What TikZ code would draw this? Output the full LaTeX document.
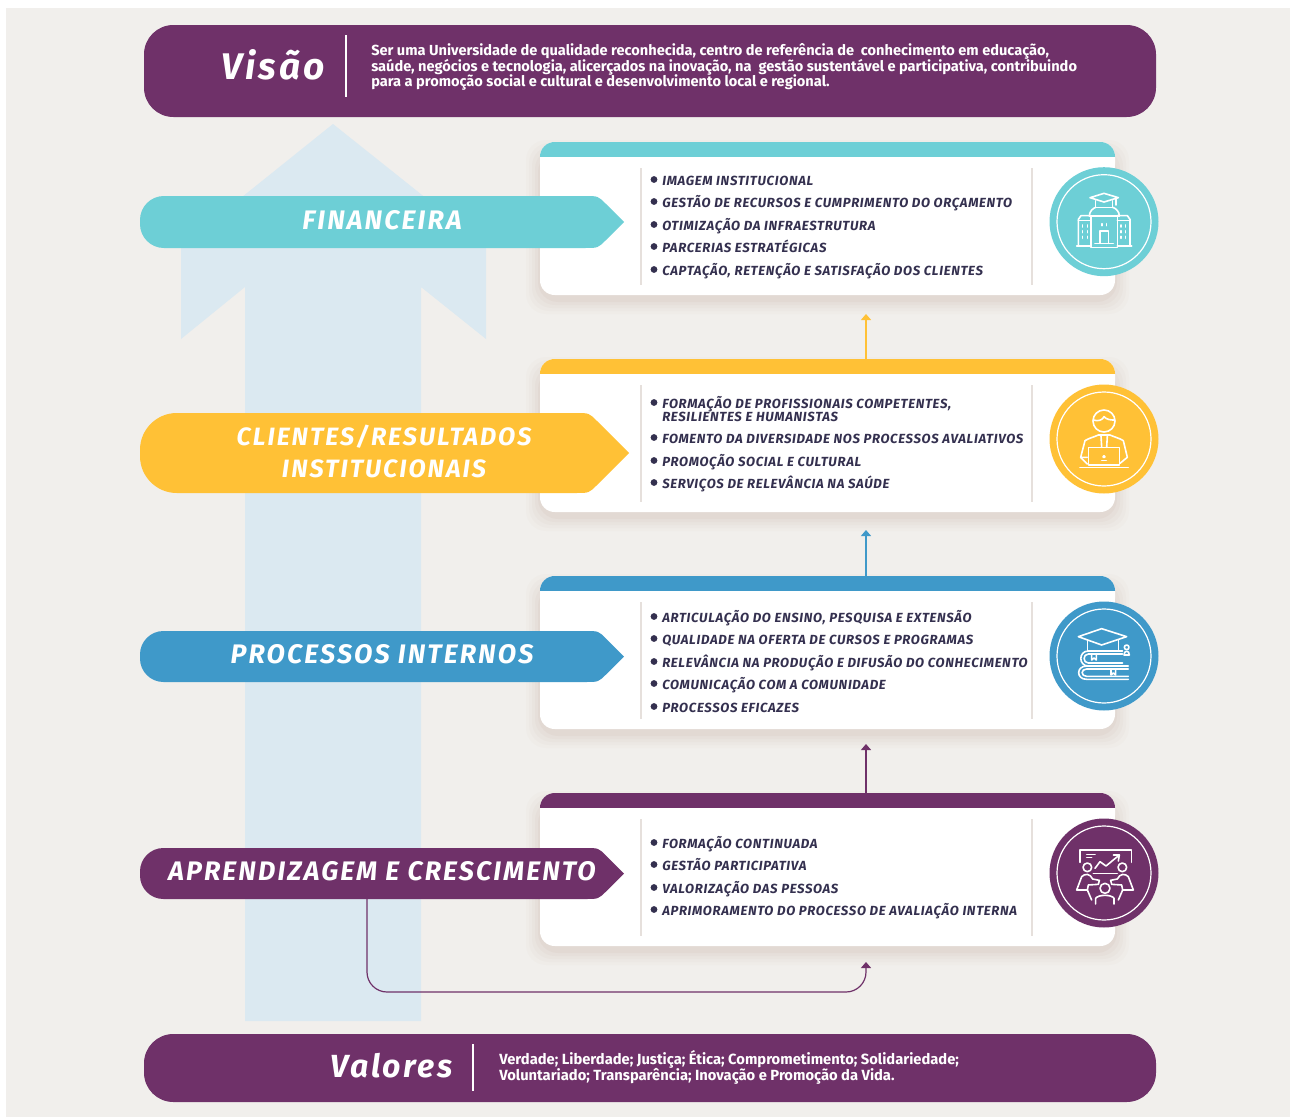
\documentclass[tikz,border=0pt]{standalone}
\usepackage{fontspec}
\setmainfont{Fira Sans}
\newfontfamily\listfont[LetterSpace=5,BoldItalicFont={Fira Sans Bold Italic}]{Fira Sans}
\newfontfamily\banfont[LetterSpace=8,BoldItalicFont={Fira Sans Bold Italic}]{Fira Sans}
\usetikzlibrary{arrows.meta,calc}
\definecolor{cteal}{HTML}{6DCFD6}
\definecolor{cyell}{HTML}{FFC136}
\definecolor{cblue}{HTML}{3F99C9}
\definecolor{cpurp}{HTML}{6F3169}
\definecolor{cdark}{HTML}{34304F}
\definecolor{cbg}{HTML}{F1EFEC}
\definecolor{csky}{HTML}{DBE9F1}
\definecolor{csep}{HTML}{E6E0DC}
\definecolor{cshadow}{HTML}{B89A8C}
\tikzset{
  listtext/.style={anchor=base west,inner sep=0pt,font=\listfont\bfseries\itshape\fontsize{9.9pt}{10.5pt}\selectfont,text=cdark},
  bantext/.style={inner sep=0pt,align=center,text=white,font=\banfont\bfseries\itshape\fontsize{20.1pt}{24pt}\selectfont},
  bartext/.style={anchor=base west,inner sep=0pt,align=left,text=white,font=\bfseries\fontsize{10.95pt}{11.6pt}\selectfont},
  bartitle/.style={anchor=base east,inner sep=0pt,text=white,font=\banfont\bfseries\itshape\fontsize{27.8pt}{30pt}\selectfont},
  sepline/.style={draw=csep,line width=0.8pt},
  flow/.style={line width=0.9pt,-{Triangle[width=7.5pt,length=4.5pt]}},
  iconline/.style={draw=white,line width=1.2pt,line cap=round,line join=round},
}
% \bannershape{top}{bottom}{tip}{colour}: round left end, 45-degree point on the right
\newcommand{\bannershape}[4]{%
  \pgfmathsetmacro{\bmid}{(#1+#2)/2}%
  \pgfmathsetmacro{\brad}{(#2-#1)/2*0.75*0.92}%
  \pgfmathsetmacro{\bcor}{#3-(#2-#1)/2}%
  \fill[#4,rounded corners=\brad pt] (300,#2) -- (140,#2) -- (140,#1) -- (300,#1) [sharp corners] -- ({\bcor-13},#1) .. controls (\bcor,#1) .. ({\bcor+8},{#1+8}) -- (#3,\bmid) -- ({\bcor+8},{#2-8}) .. controls (\bcor,#2) .. ({\bcor-13},#2) -- cycle;%
}
% \cardbox{name}{top}{colour}
\newcommand{\cardbox}[3]{%
  \foreach \s/\o in {14/0.03,11/0.04,8/0.05,5/0.06,2/0.08}{
    \fill[cshadow,opacity=\o,rounded corners=15pt] ({540-\s},{#2+12-\s}) rectangle ({1115+\s},{#2+153+5+\s});
  }
  \node[minimum width=431.25pt,minimum height=114.75pt,inner sep=0pt,fill=white,rounded corners=11pt] (#1) at (827.5,{#2+76.5}) {};
  \begin{scope}
    \clip (540,#2) rectangle (1115,{#2+14.5});
    \fill[#3,rounded corners=11pt] (540,#2) rectangle (1115,{#2+60});
  \end{scope}
  \draw[sepline] (641,{#2+26}) -- (641,{#2+143});
  \draw[sepline] (1032,{#2+26}) -- (1032,{#2+143});
}
% \bul{name}{centre y}{text}
\newcommand{\bul}[3]{%
  \fill[cdark] (654,{#2-0.5}) circle[radius=3.4];
  \node[listtext] (#1) at (662,{#2+5}) {#3};
}
\newcommand{\disc}[2]{%
  \fill[#2] (1104,#1) circle[radius=54.5];
  \draw[white,line width=0.9pt] (1104,#1) circle[radius=47];
}
\begin{document}
\begin{tikzpicture}[x=0.75pt,y=-0.75pt]
\useasboundingbox (0,0) rectangle (1290,1117);
\fill[white] (0,0) rectangle (1290,1117);
\fill[cbg] (6,8) rectangle (1290,1117);

% big pale arrow
\fill[csky] (333,124) -- (486,246) -- (486,339) -- (421,287) -- (421,1021) -- (245,1021) -- (245,287) -- (181,339) -- (181,246) -- cycle;

% cards
\cardbox{cardfin}{142}{cteal}
\cardbox{cardcli}{359}{cyell}
\cardbox{cardpro}{576}{cblue}
\cardbox{cardapr}{793}{cpurp}

% top and bottom bars
\node[fill=cpurp,rounded corners=22pt,minimum width=759pt,minimum height=69pt,inner sep=0pt] (visbar) at (650,71) {};
\node[fill=cpurp,rounded corners=22pt,minimum width=759pt,minimum height=51pt,inner sep=0pt] (valbar) at (650,1068) {};
\node[bartitle] (vistitle) at (325,79) {Visão};
\draw[white,line width=0.9pt] (346,35) -- (346,97);
\node[bartext] (vistext) at (371,86) {Ser uma Universidade de qualidade reconhecida, centro de referência de\ \ conhecimento em educação,\\[-1.5pt]saúde, negócios e tecnologia, alicerçados na inovação, na\ \ gestão sustentável e participativa, contribuindo\\[-1.5pt]para a promoção social e cultural e desenvolvimento local e regional.};
\node[bartitle,font=\banfont\bfseries\itshape\fontsize{24pt}{30pt}\selectfont] (valtitle) at (453,1077) {Valores};
\draw[white,line width=0.9pt] (473,1044) -- (473,1091);
\node[bartext,font=\bfseries\fontsize{11.05pt}{11.6pt}\selectfont] (valtext) at (499,1080) {Verdade; Liberdade; Justiça; Ética; Comprometimento; Solidariedade;\\[-1.5pt]Voluntariado; Transparência; Inovação e Promoção da Vida.};

% banners
\bannershape{196}{248}{624}{cteal}
\bannershape{413}{493}{629}{cyell}
\bannershape{631}{682}{624}{cblue}
\bannershape{848}{899}{624}{cpurp}
\node[bantext,minimum width=363pt,minimum height=38pt] (banfin) at (382,220) {FINANCEIRA};
\node[bantext,minimum width=363pt,minimum height=60pt,font=\banfont\bfseries\itshape\fontsize{18.8pt}{24pt}\selectfont] (bancli) at (384,451) {CLIENTES/RESULTADOS\\INSTITUCIONAIS};
\node[bantext,minimum width=363pt,minimum height=38pt] (banpro) at (382,654) {PROCESSOS INTERNOS};
\node[bantext,minimum width=363pt,minimum height=38pt] (banapr) at (382,871) {APRENDIZAGEM E CRESCIMENTO};

% lists
\bul{f1}{180}{IMAGEM INSTITUCIONAL}
\bul{f2}{202}{GESTÃO DE RECURSOS E CUMPRIMENTO DO ORÇAMENTO}
\bul{f3}{225}{OTIMIZAÇÃO DA INFRAESTRUTURA}
\bul{f4}{247}{PARCERIAS ESTRATÉGICAS}
\bul{f5}{270}{CAPTAÇÃO, RETENÇÃO E SATISFAÇÃO DOS CLIENTES}
\bul{c1}{403}{FORMAÇÃO DE PROFISSIONAIS COMPETENTES,}
\node[listtext] (c1b) at (662,421) {RESILIENTES E HUMANISTAS};
\bul{c2}{438}{FOMENTO DA DIVERSIDADE NOS PROCESSOS AVALIATIVOS}
\bul{c3}{461}{PROMOÇÃO SOCIAL E CULTURAL}
\bul{c4}{483}{SERVIÇOS DE RELEVÂNCIA NA SAÚDE}
\bul{p1}{617}{ARTICULAÇÃO DO ENSINO, PESQUISA E EXTENSÃO}
\bul{p2}{639}{QUALIDADE NA OFERTA DE CURSOS E PROGRAMAS}
\bul{p3}{662}{RELEVÂNCIA NA PRODUÇÃO E DIFUSÃO DO CONHECIMENTO}
\bul{p4}{684}{COMUNICAÇÃO COM A COMUNIDADE}
\bul{p5}{707}{PROCESSOS EFICAZES}
\bul{a1}{843}{FORMAÇÃO CONTINUADA}
\bul{a2}{865}{GESTÃO PARTICIPATIVA}
\bul{a3}{888}{VALORIZAÇÃO DAS PESSOAS}
\bul{a4}{910}{APRIMORAMENTO DO PROCESSO DE AVALIAÇÃO INTERNA}

% connectors
\coordinate (tipa) at (866,314);
\coordinate (tipb) at (866,530);
\coordinate (tipc) at (866,744);
\coordinate (tipd) at (866,962);
\coordinate (elbow) at (367,992);
\draw[flow,draw=cyell] (cardcli.north -| tipa) -- (tipa);
\draw[flow,draw=cblue] (cardpro.north -| tipb) -- (tipb);
\draw[flow,draw=cpurp] (cardapr.north -| tipc) -- (tipc);
\draw[flow,draw=cpurp,rounded corners=15pt] (banapr.south -| elbow) ++(0,2) -- (elbow) -- (elbow -| tipd) -- (tipd);

% icon discs
\disc{221.7}{cteal}
\disc{439}{cyell}
\disc{656}{cblue}
\disc{873}{cpurp}

% building icon
\begin{scope}[shift={(1030,150)},x=0.25pt,y=-0.25pt,iconline]
  \draw (180,143) -- (222,130) -- (265,143) -- (222,156) -- cycle;
  \draw (258,146) -- (258,165);
  \draw (197,152) -- (197,172) -- (248,172) -- (248,152);
  \draw (178,198) .. controls (178,185) and (188,175) .. (197,172);
  \draw (268,198) .. controls (268,185) and (258,175) .. (248,172);
  \draw (178,198) -- (268,198);
  \draw (183,198) -- (183,292) -- (262,292) -- (262,198);
  \draw (183,197) -- (153,197) -- (145,208) -- (145,285);
  \draw (262,197) -- (292,197) -- (300,208) -- (300,285);
  \draw (145,212) -- (183,212);
  \draw (262,212) -- (300,212);
  \draw (140,288) -- (183,288);
  \draw (262,288) -- (305,288);
  \draw (210,280) -- (210,243) -- (235,243) -- (235,280);
  \draw (195,280) -- (250,280);
  \foreach \a in {158,172,273,287}{\foreach \b in {228,245,262}{\draw (\a,\b-3) -- (\a,\b+3);}}
  \foreach \a in {216,230}{\draw (\a,221) -- (\a,227);}
\end{scope}

% person icon
\begin{scope}[shift={(1030,370)},x=0.25pt,y=-0.25pt,iconline]
  \draw (222,153) circle[radius=33];
  \draw (190,150) .. controls (205,155) and (218,150) .. (222,140) .. controls (230,150) and (245,150) .. (254,150);
  \draw (172,262) -- (152,262) -- (165,212) .. controls (175,205) and (195,200) .. (205,195) -- (240,195) .. controls (250,200) and (270,205) .. (280,212) -- (292,262) -- (270,280);
  \draw (152,262) -- (172,282);
  \draw (175,232) -- (268,232) -- (268,285) -- (175,285) -- cycle;
  \draw (150,292) -- (295,292);
  \draw (213,198) -- (215,232);
  \draw (232,198) -- (230,232);
  \draw (222,260) circle[radius=3];
  \draw (215,272) -- (229,272);
\end{scope}

% books icon
\begin{scope}[shift={(1030,590)},x=0.25pt,y=-0.25pt,iconline]
  \draw (145,140) -- (215,116) -- (290,140) -- (215,165) -- cycle;
  \draw (172,150) -- (172,183) -- (265,183) -- (265,150);
  \draw (278,183) -- (175,183) .. controls (145,183) and (145,228) .. (175,228) -- (278,228);
  \draw (278,192) -- (175,192) .. controls (158,192) and (158,219) .. (175,219) -- (278,219);
  \draw (295,228) -- (170,228) .. controls (138,228) and (138,268) .. (170,268) -- (295,268);
  \draw (295,237) -- (170,237) .. controls (152,237) and (152,259) .. (170,259) -- (295,259);
  \draw (185,192) -- (185,210) -- (192,204) -- (199,210) -- (199,192);
  \draw (243,237) -- (243,255) -- (250,249) -- (257,255) -- (257,237);
  \draw (290,172) circle[radius=7];
  \draw (282,195) .. controls (282,180) and (298,180) .. (298,195) -- cycle;
\end{scope}

% meeting icon
\begin{scope}[shift={(1030,805)},x=0.25pt,y=-0.25pt,iconline]
  \draw (150,172) -- (150,135) -- (305,135) -- (305,172);
  \draw (190,205) -- (262,205);
  \draw (170,148) -- (195,148);
  \draw (170,158) -- (185,158);
  \draw (195,190) -- (210,170) -- (228,183) -- (268,150);
  \draw (250,150) -- (268,150) -- (265,168);
  \draw (172,187) circle[radius=13];
  \draw (277,187) circle[radius=13];
  \draw (225,250) circle[radius=15];
  \draw (140,255) -- (155,215) .. controls (165,205) and (180,205) .. (188,222) -- (208,226) -- (205,238) -- (175,240) -- (172,255) -- cycle;
  \draw (310,255) -- (295,215) .. controls (285,205) and (270,205) .. (262,222) -- (242,226) -- (245,238) -- (275,240) -- (278,255) -- cycle;
  \draw (197,297) -- (197,280) .. controls (205,268) and (245,268) .. (252,280) -- (252,297);
  \draw (172,255) -- (185,285);
  \draw (278,255) -- (265,285);
\end{scope}
\end{tikzpicture}
\end{document}
